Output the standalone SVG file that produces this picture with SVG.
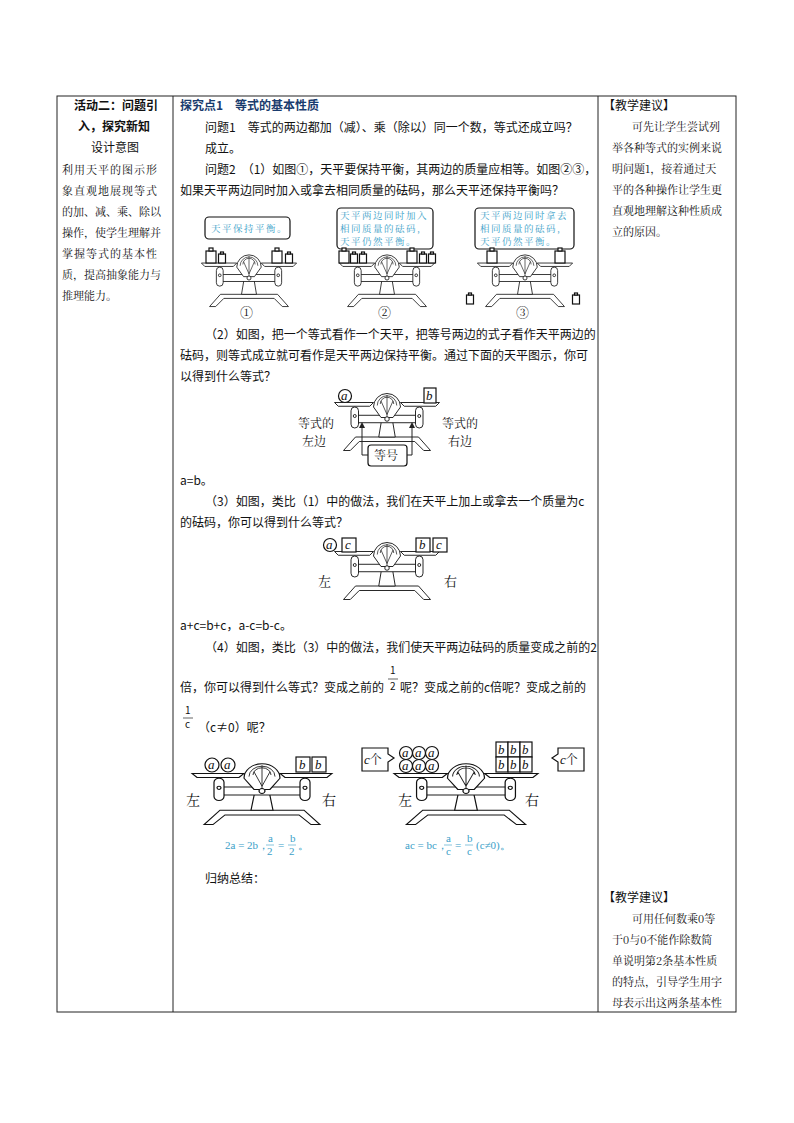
<svg xmlns="http://www.w3.org/2000/svg" width="794" height="1123" viewBox="0 0 794 1123">
<style>
text{font-family:"Noto Sans CJK SC","Noto Sans",sans-serif;font-size:12px;fill:#111}
.s{font-family:"Noto Serif CJK SC","Noto Sans CJK SC",serif;font-size:11px}
.b{font-weight:bold}
.bl{fill:#3aa0c8;font-size:9.5px;letter-spacing:1.5px}
.ln{stroke:#222;stroke-width:1;fill:none}
.sk{stroke:#111;stroke-width:1.2;fill:#fff}
.it{font-family:"Liberation Serif",serif;font-style:italic;font-size:13px}
.f{font-family:"Liberation Serif",serif;font-size:11px;fill:#3aa0c8}
</style>
<defs>
<g id="scale">
<path class="sk" d="M-58,42 L-42,24 L42,24 L58,42 L49,42 L37,30 L-37,30 L-49,42 Z"/>
<path class="sk" d="M-7,0 L-11,24 L11,24 L7,0 Z"/>
<rect class="sk" x="-46" y="-5" width="92" height="10"/>
<path class="sk" d="M-18,-16 A18,18 0 0 1 18,-16 L8,-2 L-8,-2 Z"/>
<path class="ln" d="M-13,-18 A13,13 0 0 1 13,-18 M-9,-20 A9,9 0 0 1 9,-20 M0,-32 L0,0 M-8,-24 L0,-6 M8,-24 L0,-6"/>
<circle class="sk" cx="0" cy="0" r="3"/>
<path class="sk" d="M-70,-22 L-18,-22 L-23,-17 L-65,-17 Z"/>
<path class="sk" d="M18,-22 L70,-22 L65,-17 L23,-17 Z"/>
<rect class="sk" x="-48" y="-16" width="10" height="28" rx="5"/>
<rect class="sk" x="38" y="-16" width="10" height="28" rx="5"/>
<circle class="sk" cx="-43" cy="-4" r="2"/><circle class="sk" cx="43" cy="-4" r="2"/>
</g>
<g id="wt"><rect class="sk" x="-5" y="-12" width="10" height="12"/><rect class="sk" x="-2" y="-15" width="4" height="3"/></g>
<g id="ws"><rect class="sk" x="-3.5" y="-9" width="7" height="9"/><rect class="sk" x="-1.5" y="-11" width="3" height="2"/></g>
<marker id="ar" markerWidth="6" markerHeight="6" refX="3" refY="3" orient="auto"><path d="M0,0 L6,3 L0,6 Z" fill="#222"/></marker>
</defs>

<g id="table" stroke="#222" stroke-width="1" fill="none">
<rect x="57" y="96" width="679" height="916"/>
<line x1="173" y1="96" x2="173" y2="1012"/>
<line x1="598" y1="96" x2="598" y2="1012"/>
</g>

<g id="left">
<text x="74" y="110" class="b">活动二：问题引</text>
<text x="78" y="131" class="b">入，探究新知</text>
<text x="91" y="152">设计意图</text>
<text x="62" y="174" class="s" style="letter-spacing:1px">利用天平的图示形</text>
<text x="62" y="195" class="s" style="letter-spacing:1px">象直观地展现等式</text>
<text x="62" y="216" class="s">的加、减、乘、除以</text>
<text x="62" y="237" class="s">操作，使学生理解并</text>
<text x="62" y="258" class="s" style="letter-spacing:1px">掌握等式的基本性</text>
<text x="62" y="279" class="s">质，提高抽象能力与</text>
<text x="62" y="300" class="s">推理能力。</text>
</g>

<g id="right">
<text x="603" y="110">【教学建议】</text>
<text x="632" y="131" class="s">可先让学生尝试列</text>
<text x="612" y="152" class="s">举各种等式的实例来说</text>
<text x="612" y="173" class="s">明问题1，接着通过天</text>
<text x="612" y="194" class="s">平的各种操作让学生更</text>
<text x="612" y="215" class="s">直观地理解这种性质成</text>
<text x="612" y="236" class="s">立的原因。</text>
<text x="603" y="902">【教学建议】</text>
<text x="632" y="923" class="s">可用任何数乘0等</text>
<text x="612" y="944" class="s">于0与0不能作除数简</text>
<text x="612" y="965" class="s">单说明第2条基本性质</text>
<text x="612" y="986" class="s">的特点，引导学生用字</text>
<text x="612" y="1007" class="s">母表示出这两条基本性</text>
</g>

<g id="middle">
<text x="180" y="110" class="b" style="fill:#1a3c6e">探究点1　等式的基本性质</text>
<text x="205" y="132">问题1　等式的两边都加（减）、乘（除以）同一个数，等式还成立吗？</text>
<text x="205" y="153">成立。</text>
<text x="205" y="174">问题2　（1）如图①，天平要保持平衡，其两边的质量应相等。如图②③，</text>
<text x="180" y="195">如果天平两边同时加入或拿去相同质量的砝码，那么天平还保持平衡吗？</text>
<text x="205" y="339">（2）如图，把一个等式看作一个天平，把等号两边的式子看作天平两边的</text>
<text x="180" y="360">砝码，则等式成立就可看作是天平两边保持平衡。通过下面的天平图示，你可</text>
<text x="180" y="381">以得到什么等式？</text>
<text x="180" y="485">a=b。</text>
<text x="205" y="506">（3）如图，类比（1）中的做法，我们在天平上加上或拿去一个质量为c</text>
<text x="180" y="527">的砝码，你可以得到什么等式？</text>
<text x="180" y="630">a+c=b+c，a-c=b-c。</text>
<text x="205" y="652">（4）如图，类比（3）中的做法，我们使天平两边砝码的质量变成之前的2</text>
<text x="180" y="692">倍，你可以得到什么等式？变成之前的</text>
<text x="390" y="674" style="font-size:10px">1</text><line x1="388" y1="679" x2="398" y2="679" stroke="#222" stroke-width="0.7"/><text x="390" y="690" style="font-size:10px">2</text>
<text x="400" y="692">呢？变成之前的c倍呢？变成之前的</text>
<text x="185" y="714" style="font-size:10px">1</text><line x1="183" y1="718" x2="193" y2="718" stroke="#222" stroke-width="0.7"/><text x="185" y="728" style="font-size:10px">c</text>
<text x="198" y="732">（c≠0）呢？</text>
<text x="205" y="883">归纳总结：</text>
</g>

<g id="fig1">
<rect x="205" y="217" width="85" height="22" rx="4" class="sk"/>
<text x="211" y="232" class="s bl">天平保持平衡。</text>
<rect x="337" y="208" width="96" height="41" rx="4" class="sk"/>
<text x="340" y="219" class="s bl">天平两边同时加入</text>
<text x="340" y="232" class="s bl">相同质量的砝码，</text>
<text x="340" y="245" class="s bl">天平仍然平衡。</text>
<rect x="475" y="208" width="99" height="41" rx="4" class="sk"/>
<text x="480" y="219" class="s bl">天平两边同时拿去</text>
<text x="480" y="232" class="s bl">相同质量的砝码，</text>
<text x="480" y="245" class="s bl">天平仍然平衡。</text>
<use href="#scale" transform="translate(249,278) scale(0.68)"/>
<use href="#wt" x="211" y="263"/><use href="#ws" x="222" y="263"/>
<use href="#wt" x="277" y="263"/><use href="#ws" x="289" y="263"/>
<use href="#scale" transform="translate(387,278) scale(0.68)"/>
<use href="#wt" x="344" y="263"/><use href="#ws" x="354" y="263"/><use href="#ws" x="363" y="263"/>
<use href="#wt" x="412" y="263"/><use href="#ws" x="423" y="263"/><use href="#ws" x="432" y="263"/>
<use href="#scale" transform="translate(525,278) scale(0.68)"/>
<use href="#wt" x="492" y="263"/><use href="#wt" x="560" y="263"/>
<use href="#ws" x="470" y="304"/><use href="#ws" x="576" y="304"/>
<text x="240" y="317" class="s" style="font-size:13px">①</text>
<text x="378" y="317" class="s" style="font-size:13px">②</text>
<text x="516" y="317" class="s" style="font-size:13px">③</text>
</g>

<g id="fig2">
<use href="#scale" transform="translate(387,419) scale(0.75)"/>
<circle class="sk" cx="345" cy="396" r="6.5"/><text x="341" y="400" class="it">a</text>
<rect class="sk" x="424" y="388" width="12" height="15"/><text x="426" y="400" class="it">b</text>
<text x="298" y="428" class="s" style="font-size:12px">等式的</text>
<text x="302" y="446" class="s" style="font-size:12px">左边</text>
<text x="442" y="428" class="s" style="font-size:12px">等式的</text>
<text x="448" y="446" class="s" style="font-size:12px">右边</text>
<rect class="sk" x="368" y="445" width="39" height="21" rx="3"/>
<text x="374" y="460" class="s" style="font-size:12px">等号</text>
<path class="ln" d="M368,455 L362,455 L362,425" marker-end="url(#ar)"/>
<path class="ln" d="M407,455 L412,455 L412,425" marker-end="url(#ar)"/>
</g>

<g id="fig3">
<use href="#scale" transform="translate(387,568) scale(0.75)"/>
<circle class="sk" cx="330" cy="545" r="6.5"/><text x="326" y="549" class="it">a</text>
<rect class="sk" x="342" y="538" width="14" height="14"/><text x="345" y="549" class="it">c</text>
<rect class="sk" x="416" y="538" width="14" height="14"/><text x="419" y="549" class="it">b</text>
<rect class="sk" x="433" y="538" width="14" height="14"/><text x="436" y="549" class="it">c</text>
<text x="318" y="586" class="s" style="font-size:13px">左</text>
<text x="444" y="586" class="s" style="font-size:13px">右</text>
</g>

<g id="fig4a">
<use href="#scale" transform="translate(262,791) scale(1.0,0.8)"/>
<circle class="sk" cx="212" cy="765" r="7"/><text x="208" y="769" class="it">a</text>
<circle class="sk" cx="228" cy="765" r="7"/><text x="224" y="769" class="it">a</text>
<rect class="sk" x="296" y="757" width="14" height="15"/><text x="299" y="769" class="it">b</text>
<rect class="sk" x="312" y="757" width="14" height="15"/><text x="315" y="769" class="it">b</text>
<text x="186" y="805" class="s" style="font-size:14px">左</text>
<text x="322" y="805" class="s" style="font-size:14px">右</text>
<text x="225" y="849" class="f">2a = 2b，</text>
<text x="268" y="842" class="f">a</text><line x1="266" y1="845" x2="274" y2="845" stroke="#3aa0c8" stroke-width="0.6"/><text x="267" y="855" class="f">2</text>
<text x="278" y="849" class="f">=</text>
<text x="290" y="842" class="f">b</text><line x1="288" y1="845" x2="296" y2="845" stroke="#3aa0c8" stroke-width="0.6"/><text x="289" y="855" class="f">2</text>
<text x="298" y="849" class="f">。</text>
</g>

<g id="fig4b">
<use href="#scale" transform="translate(466,791) scale(1.03,0.8)"/>
<path class="sk" d="M362,748 L388,748 L388,754 L394,758 L388,762 L388,771 L362,771 Z"/>
<text x="364" y="764" class="s" style="font-size:12px"><tspan class="it">c</tspan>个</text>
<circle class="sk" cx="406" cy="753" r="6.5"/><circle class="sk" cx="419" cy="753" r="6.5"/><circle class="sk" cx="432" cy="753" r="6.5"/>
<circle class="sk" cx="406" cy="766" r="6.5"/><circle class="sk" cx="419" cy="766" r="6.5"/><circle class="sk" cx="432" cy="766" r="6.5"/>
<text x="402" y="757" class="it">a</text><text x="415" y="757" class="it">a</text><text x="428" y="757" class="it">a</text>
<text x="402" y="770" class="it">a</text><text x="415" y="770" class="it">a</text><text x="428" y="770" class="it">a</text>
<rect class="sk" x="496" y="742" width="12" height="15"/><rect class="sk" x="508" y="742" width="12" height="15"/><rect class="sk" x="520" y="742" width="12" height="15"/>
<rect class="sk" x="496" y="757" width="12" height="15"/><rect class="sk" x="508" y="757" width="12" height="15"/><rect class="sk" x="520" y="757" width="12" height="15"/>
<text x="498" y="754" class="it">b</text><text x="510" y="754" class="it">b</text><text x="522" y="754" class="it">b</text>
<text x="498" y="769" class="it">b</text><text x="510" y="769" class="it">b</text><text x="522" y="769" class="it">b</text>
<path class="sk" d="M584,748 L558,748 L558,754 L552,758 L558,762 L558,771 L584,771 Z"/>
<text x="560" y="764" class="s" style="font-size:12px"><tspan class="it">c</tspan>个</text>
<text x="398" y="805" class="s" style="font-size:14px">左</text>
<text x="525" y="805" class="s" style="font-size:14px">右</text>
<text x="405" y="849" class="f">ac = bc，</text>
<text x="446" y="842" class="f">a</text><line x1="444" y1="845" x2="452" y2="845" stroke="#3aa0c8" stroke-width="0.6"/><text x="446" y="855" class="f">c</text>
<text x="455" y="849" class="f">=</text>
<text x="467" y="842" class="f">b</text><line x1="465" y1="845" x2="473" y2="845" stroke="#3aa0c8" stroke-width="0.6"/><text x="467" y="855" class="f">c</text>
<text x="476" y="849" class="f">(c≠0)。</text>
</g>
</svg>
